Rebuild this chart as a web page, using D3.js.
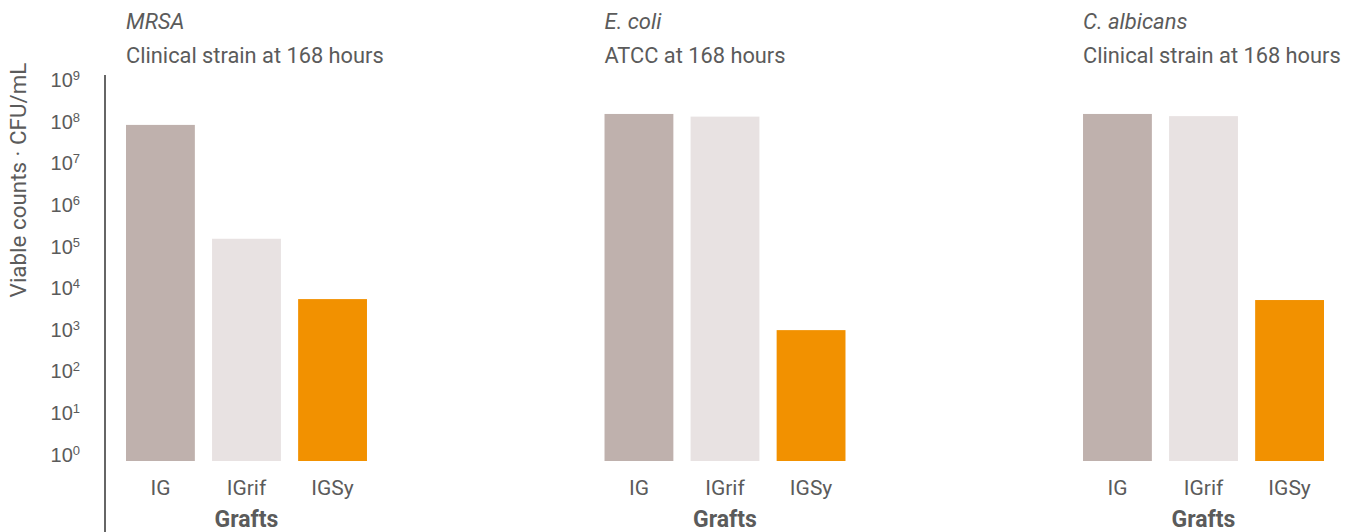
<!DOCTYPE html>
<html>
<head>
<meta charset="utf-8">
<script src="https://cdn.jsdelivr.net/npm/d3@7"></script>
<style>
  html, body { margin: 0; padding: 0; background: #fff; }
  svg { display: block; font-family: Roboto, "Noto Sans", sans-serif; }
</style>
</head>
<body>
<svg id="chart" width="1360" height="532"></svg>
<script>
// Organisms (panel headings)
const organisms = ["MRSA", "E. coli", "C. albicans"];
const strainNotes = ["Clinical strain at 168 hours", "ATCC at 168 hours", "Clinical strain at 168 hours"];

// Graft types (bars in each panel)
const grafts = ["IG", "IGrif", "IGSy"];

// Viable counts, CFU/mL, per organism in graft order
const mrsaCounts   = [1.2e8, 2.2e5, 7.8e3];
const ecoliCounts  = [2.2e8, 1.9e8, 1.4e3];
const candidaCounts = [2.2e8, 1.95e8, 7.4e3];
const countsByOrganism = [mrsaCounts, ecoliCounts, candidaCounts];

// Log axis ticks (exponents of ten)
const tickExponents = [0, 1, 2, 3, 4, 5, 6, 7, 8, 9];

const graftColors = ["#bfb1ad", "#e8e2e2", "#f29100"];
const textColor = "#5b5b5b";

const svg = d3.select("#chart");

const y = d3.scaleLog()
  .domain([1, 1e9])
  .range([461, 86.6]);

const panelX = d3.scaleBand()
  .domain(organisms)
  .range([126, 1324])
  .paddingInner(0.4964)
  .paddingOuter(0);

const barX = d3.scaleBand()
  .domain(grafts)
  .range([0, panelX.bandwidth()])
  .paddingInner(0.2)
  .paddingOuter(0);

const color = d3.scaleOrdinal().domain(grafts).range(graftColors);

// Vertical axis line
svg.append("line")
  .attr("x1", 105).attr("x2", 105)
  .attr("y1", 75).attr("y2", 532)
  .attr("stroke", "#666").attr("stroke-width", 2);

// Tick labels as 10 with superscript exponents
const yAxis = d3.axisLeft(y)
  .tickValues(tickExponents.map(e => Math.pow(10, e)))
  .tickSize(0)
  .tickFormat("");

const axisG = svg.append("g")
  .attr("transform", "translate(105,0)")
  .call(yAxis);
axisG.select(".domain").remove();

axisG.selectAll(".tick").each(function(d) {
  const t = d3.select(this).append("text")
    .attr("x", -25)
    .attr("y", 0)
    .attr("fill", textColor)
    .attr("font-size", 20)
    .attr("text-anchor", "end")
    .attr("dominant-baseline", "alphabetic");
  t.append("tspan").text("10");
  t.append("tspan")
    .attr("font-size", 13)
    .attr("dy", -7)
    .text(Math.round(Math.log10(d)));
});

// Y axis title
svg.append("text")
  .attr("transform", "translate(26,180) rotate(-90)")
  .attr("text-anchor", "middle")
  .attr("fill", textColor)
  .attr("font-size", 22.4)
  .text("Viable counts · CFU/mL");

// Panels
organisms.forEach((org, i) => {
  const g = svg.append("g")
    .attr("transform", `translate(${panelX(org)},0)`);

  g.append("text")
    .attr("x", 0).attr("y", 29)
    .attr("font-style", "italic")
    .attr("fill", textColor)
    .attr("font-size", 22)
    .text(org);

  g.append("text")
    .attr("x", 0).attr("y", 63)
    .attr("fill", textColor)
    .attr("font-size", 21.8)
    .text(strainNotes[i]);

  g.selectAll("rect")
    .data(grafts.map((gr, j) => ({ graft: gr, value: countsByOrganism[i][j] })))
    .join("rect")
    .attr("x", d => barX(d.graft))
    .attr("width", barX.bandwidth())
    .attr("y", d => y(d.value))
    .attr("height", d => y(1) - y(d.value))
    .attr("fill", d => color(d.graft));

  const xAxis = d3.axisBottom(barX).tickSize(0).tickPadding(0);
  const xg = g.append("g")
    .attr("transform", "translate(0,461)")
    .call(xAxis);
  xg.select(".domain").remove();
  xg.selectAll(".tick text")
    .attr("y", 34)
    .attr("dy", 0)
    .attr("fill", textColor)
    .attr("font-size", 21)
    .attr("font-family", "Roboto, sans-serif");

  g.append("text")
    .attr("x", panelX.bandwidth() / 2)
    .attr("y", 527)
    .attr("text-anchor", "middle")
    .attr("font-weight", "bold")
    .attr("fill", textColor)
    .attr("font-size", 23)
    .text("Grafts");
});
</script>
</body>
</html>
